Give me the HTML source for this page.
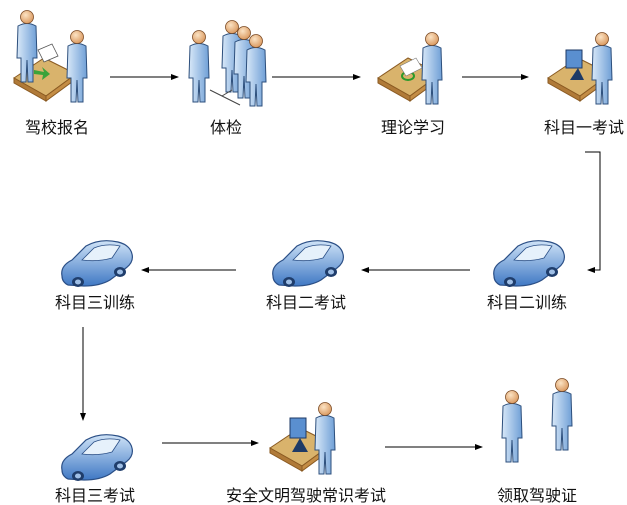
<!DOCTYPE html>
<html><head><meta charset="utf-8"><style>
html,body{margin:0;padding:0;background:#fff;}
svg{display:block}
text{font-family:"Liberation Sans","Noto Sans CJK SC",sans-serif;font-size:16px;fill:#111;text-anchor:middle}
</style></head><body>
<svg width="627" height="505" viewBox="0 0 627 505" xmlns="http://www.w3.org/2000/svg">
<defs>
<linearGradient id="bl" x1="0" x2="1"><stop offset="0" stop-color="#d8e8f8"/><stop offset="1" stop-color="#6f9fd6"/></linearGradient>
<radialGradient id="sk" cx="0.4" cy="0.35" r="0.7"><stop offset="0" stop-color="#fbe3c4"/><stop offset="1" stop-color="#d9955a"/></radialGradient>
<linearGradient id="cb" x1="0" y1="0" x2="0" y2="1"><stop offset="0" stop-color="#cfe3f7"/><stop offset="1" stop-color="#3f78c4"/></linearGradient>
<g id="p">
<path d="M-9,16 Q0,11 9,16 L10,48 L6,48 L6,72 L1,72 L0,50 L-1,72 L-6,72 L-6,48 L-10,48 Z" fill="url(#bl)" stroke="#2d4f7c" stroke-width="1"/>
<circle cx="0" cy="7" r="6.5" fill="url(#sk)" stroke="#7a4a24" stroke-width="0.8"/>
</g>
<g id="car">
<path d="M2,40 Q0,30 12,24 L26,10 Q40,2 58,6 Q70,9 72,18 Q74,26 66,32 L50,44 Q40,50 24,50 L8,49 Q2,46 2,40 Z" fill="url(#cb)" stroke="#2b4f86" stroke-width="1.2"/>
<path d="M22,24 L34,12 Q46,7 60,10 L52,22 Q38,26 22,24Z" fill="#e6f1fb" stroke="#2b4f86" stroke-width="0.8"/>
<ellipse cx="18" cy="46" rx="6" ry="5" fill="#1f3d6b"/><ellipse cx="18" cy="46" rx="3" ry="2.5" fill="#9fbfe6"/>
<ellipse cx="60" cy="36" rx="6" ry="5" fill="#1f3d6b"/><ellipse cx="60" cy="36" rx="3" ry="2.5" fill="#9fbfe6"/>
</g>
<g id="desk">
<path d="M0,20 L30,0 L62,16 L32,38 Z" fill="#d9b36c" stroke="#8a5a22"/>
<path d="M0,20 L32,38 L32,43 L0,25 Z" fill="#b07a38" stroke="#8a5a22"/>
<path d="M32,38 L62,16 L62,21 L32,43 Z" fill="#c48d45" stroke="#8a5a22"/>
</g>
<marker id="ar" markerWidth="8" markerHeight="8" refX="7" refY="4" orient="auto" markerUnits="userSpaceOnUse"><path d="M0,1 L8,4 L0,7Z" fill="#000"/></marker>
</defs>

<use href="#desk" x="14" y="58"/>
<use href="#p" x="27" y="10"/>
<use href="#p" x="77" y="30"/>
<path d="M38,50 L52,44 L58,56 L44,62Z" fill="#fff" stroke="#555" stroke-width="0.8"/>
<path d="M34,70 L44,72 L42,67 L50,74 L42,80 L43,75 L34,74Z" fill="#3aa33a"/>

<use href="#p" x="199" y="30"/>
<use href="#p" x="232" y="20"/>
<use href="#p" x="244" y="26"/>
<use href="#p" x="256" y="34"/>
<path d="M210,90 L240,105 M222,96 L232,90" stroke="#444" fill="none"/>

<use href="#desk" x="378" y="58"/>
<use href="#p" x="432" y="32"/>
<ellipse cx="408" cy="76" rx="6" ry="4" fill="none" stroke="#2a9a2a" stroke-width="2"/>
<path d="M400,66 L416,58 L422,68 L406,76Z" fill="#fff" stroke="#777" stroke-width="0.6"/>

<use href="#desk" x="548" y="58"/>
<rect x="566" y="50" width="16" height="18" fill="#5a8fd0" stroke="#1e3a66"/>
<path d="M570,80 L578,68 L584,80Z" fill="#1e3a66"/>
<use href="#p" x="602" y="32"/>

<use href="#car" x="60" y="236"/>
<use href="#car" x="271" y="236"/>
<use href="#car" x="492" y="236"/>
<use href="#car" x="60" y="430"/>
<use href="#desk" x="270" y="428"/>
<rect x="290" y="418" width="16" height="20" fill="#5a8fd0" stroke="#1e3a66"/>
<path d="M292,452 L300,438 L308,452Z" fill="#1e3a66"/>
<use href="#p" x="325" y="402"/>
<use href="#p" x="512" y="390"/>
<use href="#p" x="562" y="378"/>

<g stroke="#000" stroke-width="1" fill="none" marker-end="url(#ar)">
<path d="M110,77 H178"/>
<path d="M272,77 H360"/>
<path d="M462,77 H528"/>
<path d="M585,152 H600 V270 H588"/>
<path d="M470,270 H362"/>
<path d="M236,270 H142"/>
<path d="M83,327 V420"/>
<path d="M162,443 H258"/>
<path d="M385,447 H482"/>
</g>

<text x="57" y="133">驾校报名</text>
<text x="226" y="133">体检</text>
<text x="413" y="133">理论学习</text>
<text x="584" y="133">科目一考试</text>
<text x="95" y="308">科目三训练</text>
<text x="306" y="308">科目二考试</text>
<text x="527" y="308">科目二训练</text>
<text x="95" y="501">科目三考试</text>
<text x="306" y="501">安全文明驾驶常识考试</text>
<text x="537" y="501">领取驾驶证</text>
</svg>
</body></html>
